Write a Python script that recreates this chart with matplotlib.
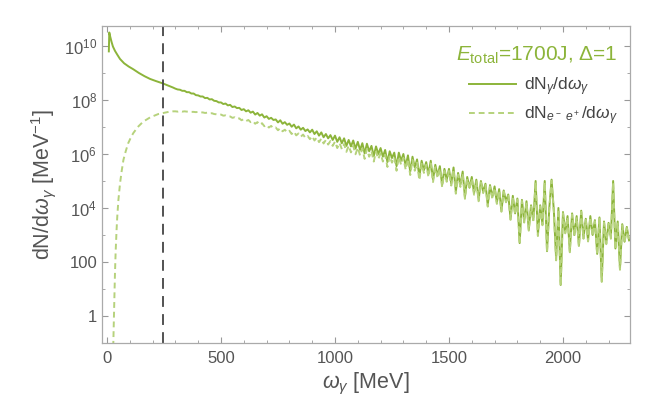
import numpy as np
import matplotlib
matplotlib.use("Agg")
import matplotlib.pyplot as plt
from matplotlib.ticker import FixedLocator, NullFormatter

plt.rcParams["font.family"] = ["Liberation Sans", "DejaVu Sans"]
plt.rcParams["mathtext.fontset"] = "custom"
plt.rcParams["mathtext.rm"] = "Liberation Sans"
plt.rcParams["mathtext.it"] = "Liberation Sans:italic"

# photon spectrum, low-energy part (MeV, log10 of dN/dw)
w_low = [8, 10, 14, 20, 26, 35, 45, 57, 75, 95, 115, 140, 165, 189, 215, 243, 270, 290]
logN_low = [9.8, 10.5, 10.35, 10.15, 9.98, 9.82, 9.68, 9.52, 9.36, 9.24, 9.14, 9.0,
            8.88, 8.78, 8.7, 8.62, 8.53, 8.46]

# pair spectrum, low-energy part
w_pair_low = [26, 28, 30, 32, 35, 38, 42, 45, 50, 57, 64, 72, 82, 93, 104, 115, 135,
              159, 190, 225, 247, 270, 290]
logP_low = [-1.5, -0.9, -0.1, 0.55, 1.6, 2.4, 3.2, 3.68, 4.3, 4.9, 5.35, 5.78, 6.1,
            6.4, 6.6, 6.77, 7.0, 7.2, 7.36, 7.48, 7.52, 7.56, 7.58]

# high-energy part, sampled every 10 MeV from 300 to 2290
w_high = list(range(300, 2300, 10))
logN_high = [
    8.42, 8.39, 8.38, 8.34, 8.34, 8.29, 8.29, 8.24, 8.24, 8.18,
    8.17, 8.13, 8.13, 8.07, 8.08, 8.02, 8.03, 7.97, 7.96, 7.91,
    7.91, 7.85, 7.87, 7.80, 7.82, 7.74, 7.76, 7.70, 7.71, 7.63,
    7.66, 7.58, 7.62, 7.53, 7.57, 7.46, 7.52, 7.42, 7.47, 7.35,
    7.40, 7.30, 7.34, 7.26, 7.28, 7.17, 7.25, 7.12, 7.18, 7.08,
    7.13, 7.01, 7.09, 6.95, 7.02, 6.90, 6.97, 6.85, 6.91, 6.80,
    6.90, 6.74, 6.84, 6.68, 6.80, 6.62, 6.74, 6.58, 6.70, 6.52,
    6.68, 6.45, 6.62, 6.40, 6.58, 6.30, 6.52, 6.28, 6.50, 6.20,
    6.45, 6.15, 6.40, 6.02, 6.38, 6.10, 6.30, 5.92, 6.28, 6.00,
    6.22, 5.90, 6.15, 5.70, 6.10, 5.85, 6.05, 5.55, 6.05, 5.75,
    6.00, 5.55, 5.95, 5.35, 5.90, 5.50, 5.80, 5.15, 5.75, 5.40,
    5.70, 5.25, 5.75, 5.05, 5.60, 5.20, 5.55, 4.85, 5.45, 5.05,
    5.45, 4.90, 5.50, 4.60, 5.30, 4.85, 5.35, 4.40, 5.15, 4.75,
    5.15, 4.55, 5.05, 4.30, 5.00, 4.60, 4.90, 4.10, 4.85, 4.40,
    4.80, 4.20, 4.70, 3.90, 4.65, 4.25, 4.50, 3.60, 4.45, 3.80,
    4.35, 2.70, 4.30, 3.50, 4.25, 3.20, 4.10, 3.55, 5.00, 3.00,
    4.10, 3.40, 5.00, 2.40, 4.00, 5.05, 3.90, 2.10, 4.00, 1.15,
    3.85, 3.10, 3.70, 2.40, 3.80, 3.00, 3.70, 2.60, 3.90, 2.90,
    3.60, 2.80, 3.70, 3.00, 3.55, 2.30, 3.65, 1.30, 3.50, 2.70,
    3.45, 2.90, 5.00, 2.50, 3.50, 1.75, 3.40, 2.75, 3.30, 2.80,
]
logP_high = [
    7.58, 7.57, 7.59, 7.57, 7.58, 7.57, 7.57, 7.56, 7.56, 7.55,
    7.56, 7.54, 7.54, 7.52, 7.53, 7.50, 7.51, 7.48, 7.47, 7.45,
    7.46, 7.42, 7.43, 7.39, 7.39, 7.34, 7.36, 7.30, 7.32, 7.25,
    7.29, 7.22, 7.26, 7.18, 7.22, 7.12, 7.18, 7.08, 7.14, 7.03,
    7.08, 6.98, 7.04, 6.95, 6.98, 6.88, 6.96, 6.84, 6.90, 6.80,
    6.86, 6.74, 6.83, 6.69, 6.76, 6.64, 6.72, 6.60, 6.67, 6.55,
    6.66, 6.50, 6.61, 6.44, 6.57, 6.39, 6.52, 6.35, 6.48, 6.30,
    6.46, 6.22, 6.41, 6.18, 6.37, 6.08, 6.31, 6.06, 6.30, 5.99,
    6.24, 5.94, 6.20, 5.82, 6.18, 5.90, 6.11, 5.72, 6.09, 5.81,
    6.03, 5.72, 5.97, 5.52, 5.93, 5.68, 5.88, 5.38, 5.89, 5.60,
    5.86, 5.42, 5.82, 5.22, 5.78, 5.38, 5.68, 5.03, 5.64, 5.30,
    5.60, 5.15, 5.65, 4.96, 5.51, 5.11, 5.46, 4.77, 5.37, 4.97,
    5.37, 4.83, 5.43, 4.53, 5.23, 4.78, 5.28, 4.34, 5.09, 4.69,
    5.09, 4.49, 4.99, 4.25, 4.95, 4.55, 4.85, 4.05, 4.80, 4.35,
    4.75, 4.15, 4.65, 3.86, 4.61, 4.21, 4.46, 3.56, 4.41, 3.76,
    4.31, 2.66, 4.26, 3.46, 4.21, 3.16, 4.06, 3.51, 4.96, 2.96,
    4.06, 3.36, 4.96, 2.36, 3.96, 5.01, 3.86, 2.06, 3.96, 1.12,
    3.81, 3.06, 3.66, 2.36, 3.76, 2.96, 3.66, 2.56, 3.86, 2.86,
    3.56, 2.76, 3.66, 2.96, 3.51, 2.26, 3.61, 1.26, 3.46, 2.66,
    3.41, 2.86, 4.96, 2.46, 3.46, 1.71, 3.36, 2.71, 3.26, 2.76,
]

w_cut = 245  # vertical marker

green = "#8cb43a"
light_green = "#b6d27c"
gray = "#555555"

w_photon = np.array(w_low + w_high)
N_photon = 10.0 ** np.array(logN_low + logN_high)
w_pair = np.array(w_pair_low + w_high)
N_pair = 10.0 ** np.array(logP_low + logP_high)

fig = plt.figure(figsize=(6.64, 3.99), dpi=100)
ax = fig.add_axes([0.1536, 0.1404, 0.7952, 0.7944])

ax.plot(w_photon, N_photon, color=green, lw=1.4,
        label=r"dN$_{\mathit{\gamma}}$/d$\mathit{\omega}_{\mathit{\gamma}}$")
ax.plot(w_pair, N_pair, color=light_green, lw=1.4, dashes=(3, 2),
        label=r"dN$_{\mathit{e^-\ e^+}}$/d$\mathit{\omega}_{\mathit{\gamma}}$")
ax.axvline(w_cut, color="#444444", lw=1.3, dashes=(6, 4))

ax.set_yscale("log")
ax.set_xlim(-22, 2294)
ax.set_ylim(0.1, 5.5e10)

ax.xaxis.set_major_locator(FixedLocator([0, 500, 1000, 1500, 2000]))
ax.xaxis.set_minor_locator(FixedLocator(list(range(0, 2300, 100))))
ax.yaxis.set_major_locator(FixedLocator([1, 1e2, 1e4, 1e6, 1e8, 1e10]))
ax.yaxis.set_minor_locator(FixedLocator([10, 1e3, 1e5, 1e7, 1e9]))
ax.yaxis.set_minor_formatter(NullFormatter())
ax.set_yticklabels(["1", "100", r"10$^4$", r"10$^6$", r"10$^8$", r"10$^{10}$"])

ax.tick_params(which="both", direction="in", top=True, right=True,
               colors="#999999", labelcolor=gray, labelsize=12)
ax.tick_params(which="major", length=4, width=0.8)
ax.tick_params(which="minor", length=2.2, width=0.6)
ax.tick_params(axis="x", pad=6)
for s in ax.spines.values():
    s.set_color("#aaaaaa")
    s.set_linewidth(0.9)

ax.set_xlabel(r"$\mathit{\omega}_{\mathit{\gamma}}$ [MeV]", fontsize=15.5, color=gray, labelpad=3)
ax.set_ylabel(r"dN/d$\mathit{\omega}_{\mathit{\gamma}}$ [MeV$^{-1}$]", fontsize=15.5, color=gray, labelpad=4)

leg = ax.legend(loc="upper right", bbox_to_anchor=(1.0, 0.98), frameon=False,
                fontsize=12.5, handlelength=2.7, handletextpad=0.5,
                labelspacing=0.35, borderaxespad=0.3,
                title=r"$\mathit{E}_{\mathrm{total}}$=1700J, $\Delta$=1",
                title_fontsize=15, alignment="right")
leg.get_title().set_color(green)
leg._legend_box.sep = 7
for t in leg.get_texts():
    t.set_color("#444444")

fig.savefig("out.png", dpi=100)
